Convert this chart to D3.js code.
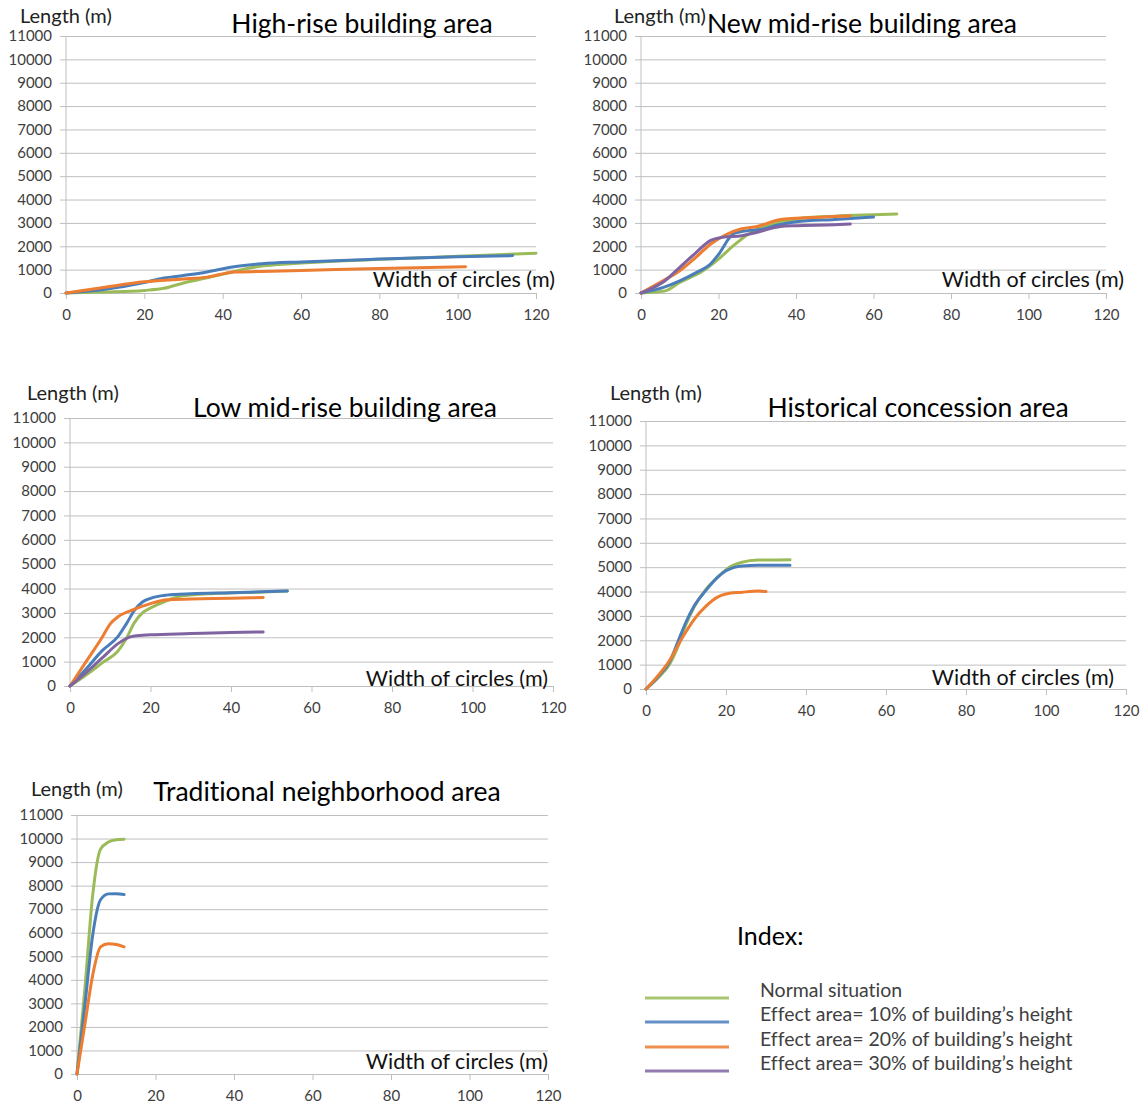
<!DOCTYPE html>
<html>
<head>
<meta charset="utf-8">
<script src="https://cdn.jsdelivr.net/npm/d3@7"></script>
<style>
  body { margin: 0; background: #fff; }
  svg { font-family: Lato, "Noto Sans", sans-serif; font-variant-ligatures: none; }
</style>
</head>
<body>
<div id="figure"></div>
<script>
// tick labels
var xTicks = [0, 20, 40, 60, 80, 100, 120];
var yTicks = [0, 1000, 2000, 3000, 4000, 5000, 6000, 7000, 8000, 9000, 10000, 11000];

var seriesNames = ["Normal situation",
  "Effect area= 10% of building\u2019s height",
  "Effect area= 20% of building\u2019s height",
  "Effect area= 30% of building\u2019s height"];
var seriesColors = ["#9bbb59", "#4a7ebb", "#ed7d31", "#8064a2"];

var panelTitles = ["High-rise building area", "New mid-rise building area",
  "Low mid-rise building area", "Historical concession area", "Traditional neighborhood area"];

// [width of circles, length]
var highNormal = [[0,0],[10,40],[20,110],[25,200],[30,430],[36,650],[42,880],[48,1100],[55,1230],[65,1330],[80,1440],[100,1570],[120,1700]];
var high10 = [[0,0],[10,160],[20,450],[25,640],[30,750],[36,900],[42,1100],[50,1250],[60,1330],[80,1450],[100,1550],[114,1600]];
var high20 = [[0,0],[10,250],[20,480],[30,600],[36,680],[43,900],[50,920],[60,960],[80,1050],[102,1120]];

var newNormal = [[0,0],[6,80],[10,450],[16,950],[20,1450],[24,2050],[28,2550],[32,2850],[36,3050],[40,3170],[50,3290],[60,3350],[66,3380]];
var new10 = [[0,0],[6,250],[10,520],[14,850],[18,1250],[20,1650],[24,2550],[28,2680],[31,2720],[35,2900],[40,3050],[50,3150],[60,3250]];
var new20 = [[0,0],[6,550],[10,950],[14,1500],[18,2100],[22,2500],[26,2750],[30,2850],[36,3150],[40,3200],[50,3270],[54,3300]];
var new30 = [[0,0],[6,500],[10,1100],[14,1700],[18,2250],[21,2380],[26,2450],[30,2600],[36,2850],[40,2880],[50,2920],[54,2950]];

var lowNormal = [[0,0],[4,450],[8,950],[12,1450],[14,1950],[16,2600],[18,3000],[20,3200],[24,3500],[28,3700],[36,3800],[48,3860],[54,3900]];
var low10 = [[0,0],[4,700],[8,1450],[12,2050],[14,2550],[16,3100],[18,3450],[20,3600],[24,3730],[30,3790],[40,3830],[54,3900]];
var low20 = [[0,0],[4,1000],[8,2000],[10,2550],[12,2850],[16,3150],[20,3380],[24,3540],[30,3570],[40,3600],[48,3630]];
var low30 = [[0,0],[4,550],[8,1150],[12,1750],[14,1950],[16,2050],[20,2100],[30,2150],[40,2200],[48,2220]];

var histNormal = [[0,0],[3,450],[6,1050],[8,1750],[10,2650],[12,3350],[15,4100],[18,4600],[20,4900],[24,5200],[28,5290],[36,5300]];
var hist10 = [[0,0],[3,500],[6,1150],[8,1950],[10,2750],[12,3400],[15,4050],[18,4600],[20,4850],[24,5050],[28,5080],[36,5080]];
var hist20 = [[0,0],[3,550],[6,1200],[8,1800],[10,2350],[12,2850],[15,3400],[18,3780],[20,3900],[24,3970],[28,4020],[30,4000]];

var tradNormal = [[0,0],[2,3600],[4,7600],[6,9550],[8,9850],[10,9950],[12,9970]];
var trad10 = [[0,0],[2,2900],[4,5900],[6,7400],[8,7650],[10,7660],[12,7620]];
var trad20 = [[0,0],[2,2100],[4,4200],[6,5400],[8,5530],[10,5500],[12,5400]];

var panelSeries = [
  [highNormal, high10, high20, null],
  [newNormal, new10, new20, new30],
  [lowNormal, low10, low20, low30],
  [histNormal, hist10, hist20, null],
  [tradNormal, trad10, trad20, null]
];

// layout of the five panels (plot area box, label anchors)
var layout = [
  {l: 66,  r: 536,  t: 36,  b: 293,  title: [362, 33],  len: [20, 23],   wid: [555, 287]},
  {l: 641, r: 1106, t: 36,  b: 293,  title: [862, 33],  len: [614, 23],  wid: [1124, 287]},
  {l: 70,  r: 553,  t: 418, b: 686,  title: [345, 417], len: [27, 400],  wid: [548, 686]},
  {l: 646, r: 1126, t: 421, b: 689,  title: [918, 417], len: [610, 400], wid: [1114, 685]},
  {l: 77,  r: 548,  t: 815, b: 1074, title: [327, 801], len: [31, 796],  wid: [548, 1069]}
];

var svg = d3.select("#figure").append("svg")
  .attr("width", 1146).attr("height", 1104);

layout.forEach(function(p, i) {
  var x = d3.scaleLinear().domain([0, 120]).range([p.l, p.r]);
  var y = d3.scaleLinear().domain([0, 11000]).range([p.b, p.t]);
  var g = svg.append("g");

  // gridlines + y labels
  var yAxis = g.append("g")
    .attr("transform", `translate(${p.l},0)`)
    .call(d3.axisLeft(y).tickValues(yTicks).tickFormat(d3.format("d"))
      .tickSize(-(p.r - p.l)).tickSizeOuter(0).tickPadding(14));
  yAxis.select(".domain").remove();
  yAxis.selectAll(".tick line").attr("stroke", "#bfbfbf").attr("x1", -6);
  yAxis.selectAll(".tick text").attr("fill", "#404040").style("font-size", "15px")
    .style("font-family", "Lato, sans-serif");

  // vertical axis line
  g.append("line").attr("x1", p.l).attr("x2", p.l).attr("y1", p.t).attr("y2", p.b)
    .attr("stroke", "#bfbfbf");

  var xAxis = g.append("g")
    .attr("transform", `translate(0,${p.b})`)
    .call(d3.axisBottom(x).tickValues(xTicks).tickSize(6).tickSizeOuter(0).tickPadding(10));
  xAxis.select(".domain").attr("stroke", "#bfbfbf");
  xAxis.selectAll(".tick line").attr("stroke", "#bfbfbf");
  xAxis.selectAll(".tick text").attr("fill", "#404040").style("font-size", "15px")
    .style("font-family", "Lato, sans-serif");

  var line = d3.line().x(d => x(d[0])).y(d => y(d[1])).curve(d3.curveMonotoneX);
  panelSeries[i].forEach(function(s, k) {
    if (!s) return;
    g.append("path").datum(s)
      .attr("d", line)
      .attr("fill", "none")
      .attr("stroke", seriesColors[k])
      .attr("stroke-width", 3)
      .attr("stroke-linecap", "round");
  });

  g.append("text").attr("x", p.len[0]).attr("y", p.len[1])
    .style("font-size", "20px").attr("fill", "#222").text("Length (m)");
  g.append("text").attr("x", p.wid[0]).attr("y", p.wid[1]).attr("text-anchor", "end")
    .style("font-size", "21.5px").attr("fill", "#111").text("Width of circles (m)");
  g.append("text").attr("x", p.title[0]).attr("y", p.title[1]).attr("text-anchor", "middle")
    .style("font-size", "26.5px").attr("fill", "#000").text(panelTitles[i]);
});

// legend
var legend = svg.append("g");
legend.append("text").attr("x", 737).attr("y", 945).style("font-size", "25px").attr("fill", "#000").text("Index:");
var legendY = [998, 1022, 1047, 1071];
seriesNames.forEach(function(name, k) {
  legend.append("line").attr("x1", 645).attr("x2", 729)
    .attr("y1", legendY[k]).attr("y2", legendY[k])
    .attr("stroke", seriesColors[k]).attr("stroke-width", 3).attr("opacity", 0.85);
  legend.append("text").attr("x", 760).attr("y", legendY[k] - 1)
    .style("font-size", "19.5px").attr("fill", "#404040").text(name);
});
</script>
</body>
</html>
